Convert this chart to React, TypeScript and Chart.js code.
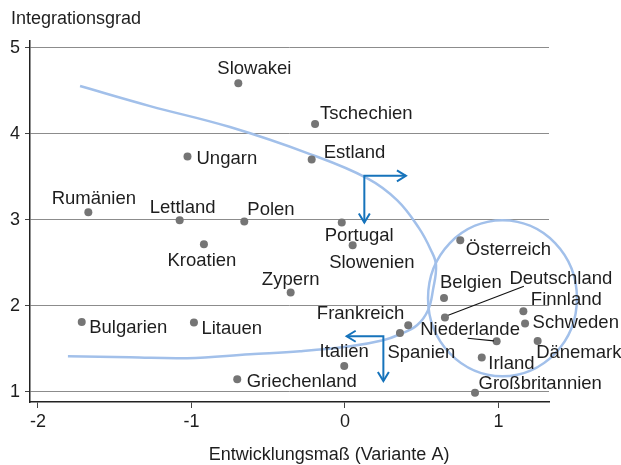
import React, { useEffect, useRef } from "react";
import { Chart, registerables } from "chart.js";

Chart.register(...registerables);

// ---------- data ----------
const countries = [
  "Slowakei", "Tschechien", "Ungarn", "Estland", "Rumänien", "Lettland", "Polen",
  "Portugal", "Slowenien", "Kroatien", "Zypern", "Bulgarien", "Litauen", "Griechenland",
  "Italien", "Frankreich", "Spanien", "Österreich", "Belgien", "Deutschland",
  "Niederlande", "Finnland", "Schweden", "Dänemark", "Irland", "Großbritannien",
];
const developmentValues = [
  -0.695, -0.195, -1.026, -0.217, -1.672, -1.077, -0.656,
  -0.021, 0.05, -0.919, -0.354, -1.715, -0.984, -0.702,
  -0.005, 0.412, 0.358, 0.751, 0.645, 0.651,
  0.988, 1.162, 1.173, 1.255, 0.891, 0.847,
];
const integrationValues = [
  4.586, 4.112, 3.736, 3.701, 3.087, 2.994, 2.979,
  2.967, 2.703, 2.715, 2.153, 1.81, 1.803, 1.143,
  1.298, 1.772, 1.682, 2.761, 2.09, 1.861,
  1.586, 1.935, 1.792, 1.589, 1.396, 0.988,
];

const xTicks = [-2, -1, 0, 1];
const yTicks = [1, 2, 3, 4, 5];
const xRange = [-2.052, 1.329];
const yRange = [0.879, 5.078];
const xTitle = "Entwicklungsmaß (Variante A)";
const yTitle = "Integrationsgrad";

// trend curve (data units)
const curveX = [
  -1.726, -1.27, -0.749, -0.228, 0.143, 0.339, 0.482, 0.56, 0.593, 0.573,
  0.541, 0.469, 0.358, 0.248, 0.033, -0.293, -0.619, -1.029, -1.401, -1.805,
];
const curveY = [
  4.554, 4.321, 4.077, 3.763, 3.483, 3.227, 2.901, 2.645, 2.471, 2.18,
  1.947, 1.772, 1.667, 1.597, 1.527, 1.469, 1.434, 1.388, 1.399, 1.411,
];

// cluster ellipse (data units): center, radii
const clusterCenter = [1.026, 2.086];
const clusterRadii = [0.485, 0.908];

// arrows (data units): corner x, corner y, horizontal tip x, vertical tip y
const arrowCornerX = [0.126, 0.25];
const arrowCornerY = [3.51, 1.644];
const arrowTipX = [0.397, 0.011];
const arrowTipY = [2.967, 1.123];

// ---------- label placement (pixel offsets from dot, text alignment) ----------
const labelPlacement: Record<string, [number, number, CanvasTextAlign]> = {
  Slowakei: [16, -9, "center"],
  Tschechien: [5, -5, "left"],
  Ungarn: [9, 8, "left"],
  Estland: [12, -1, "left"],
  "Rumänien": [5.5, -8, "center"],
  Lettland: [3, -7, "center"],
  Polen: [3, -6, "left"],
  Portugal: [-17, 18.5, "left"],
  Slowenien: [-23.5, 22.5, "left"],
  Kroatien: [-2, 21.5, "center"],
  Zypern: [0, -7.5, "center"],
  Bulgarien: [7.5, 11.5, "left"],
  Litauen: [7.5, 11.5, "left"],
  Griechenland: [9.5, 7.5, "left"],
  Italien: [0, -9, "center"],
  Frankreich: [-4, -6.5, "right"],
  Spanien: [-12.5, 25.5, "left"],
  "Österreich": [5.5, 15, "left"],
  Belgien: [-4, -9.5, "left"],
  Deutschland: [64.5, -34, "left"],
  Niederlande: [-76.5, -6, "left"],
  Finnland: [7.5, -6, "left"],
  Schweden: [7.5, 4, "left"],
  "Dänemark": [-1.5, 17.5, "left"],
  Irland: [6.5, 11, "left"],
  "Großbritannien": [3.5, -4, "left"],
};
// leader lines: pixel offsets from dot [x1, y1, x2, y2]
const leaderLines: Record<string, [number, number, number, number]> = {
  Deutschland: [3.3, -2.3, 79, -31.3],
  Niederlande: [-29, -3, -2.7, -0.3],
};

const FONT = "'Liberation Sans', Arial, Helvetica, sans-serif";
const TEXT = "#1e1e1e";
const CURVE_BLUE = "#a2c0ea";
const ARROW_BLUE = "#1673bb";

function drawArrowHead(ctx: CanvasRenderingContext2D, x: number, y: number, dx: number, dy: number) {
  const len = 9, spread = 5.5;
  const nx = -dy, ny = dx;
  ctx.beginPath();
  ctx.moveTo(x - dx * len + nx * spread, y - dy * len + ny * spread);
  ctx.lineTo(x, y);
  ctx.lineTo(x - dx * len - nx * spread, y - dy * len - ny * spread);
  ctx.stroke();
}

const overlayPlugin = {
  id: "overlay",
  beforeDatasetsDraw(chart: any) {
    const { ctx } = chart;
    const xs = chart.scales.x, ys = chart.scales.y;
    const cx = xs.getPixelForValue(clusterCenter[0]);
    const cy = ys.getPixelForValue(clusterCenter[1]);
    const rx = Math.abs(xs.getPixelForValue(clusterCenter[0] + clusterRadii[0]) - cx);
    const ry = Math.abs(ys.getPixelForValue(clusterCenter[1] + clusterRadii[1]) - cy);
    ctx.save();
    ctx.strokeStyle = CURVE_BLUE;
    ctx.lineWidth = 2.5;
    ctx.beginPath();
    ctx.ellipse(cx, cy, rx, ry, 0, 0, Math.PI * 2);
    ctx.stroke();
    ctx.restore();
  },
  afterDatasetsDraw(chart: any) {
    const { ctx } = chart;
    const xs = chart.scales.x, ys = chart.scales.y;
    ctx.save();
    // arrows
    ctx.strokeStyle = ARROW_BLUE;
    ctx.lineWidth = 2;
    ctx.lineCap = "butt";
    ctx.lineJoin = "miter";
    for (let i = 0; i < arrowCornerX.length; i++) {
      const px = xs.getPixelForValue(arrowCornerX[i]);
      const py = ys.getPixelForValue(arrowCornerY[i]);
      const hx = xs.getPixelForValue(arrowTipX[i]);
      const vy = ys.getPixelForValue(arrowTipY[i]);
      ctx.beginPath();
      ctx.moveTo(hx, py);
      ctx.lineTo(px, py);
      ctx.lineTo(px, vy);
      ctx.stroke();
      drawArrowHead(ctx, hx, py, Math.sign(hx - px), 0);
      drawArrowHead(ctx, px, vy, 0, Math.sign(vy - py));
    }
    // labels + leaders
    const meta = chart.getDatasetMeta(0);
    ctx.font = `18.5px ${FONT}`;
    ctx.fillStyle = TEXT;
    ctx.textBaseline = "alphabetic";
    countries.forEach((name, i) => {
      const el = meta.data[i];
      if (!el) return;
      const place = labelPlacement[name] || [6, 0, "left"];
      ctx.textAlign = place[2];
      ctx.fillText(name, el.x + place[0], el.y + place[1]);
      const leader = leaderLines[name];
      if (leader) {
        ctx.strokeStyle = "#111";
        ctx.lineWidth = 1.1;
        ctx.beginPath();
        ctx.moveTo(el.x + leader[0], el.y + leader[1]);
        ctx.lineTo(el.x + leader[2], el.y + leader[3]);
        ctx.stroke();
      }
    });
    ctx.restore();
  },
  afterDraw(chart: any) {
    const { ctx, chartArea } = chart;
    ctx.save();
    ctx.fillStyle = TEXT;
    ctx.font = `18px ${FONT}`;
    ctx.textBaseline = "alphabetic";
    ctx.textAlign = "left";
    ctx.fillText(yTitle, chartArea.left - 19, chartArea.top - 17);
    ctx.textAlign = "center";
    ctx.fillText(xTitle, chartArea.left + 299, chartArea.bottom + 58);
    ctx.restore();
  },
};

export default function App() {
  const canvasRef = useRef<HTMLCanvasElement | null>(null);

  useEffect(() => {
    if (!canvasRef.current) return;
    const points = countries.map((_, i) => ({ x: developmentValues[i], y: integrationValues[i] }));
    const curve = curveX.map((x, i) => ({ x, y: curveY[i] }));
    const tickFont = { family: FONT, size: 18 };
    const chart = new Chart(canvasRef.current, {
      type: "scatter",
      data: {
        datasets: [
          {
            data: points,
            pointRadius: 4,
            pointHoverRadius: 4,
            pointBackgroundColor: "#757575",
            pointBorderWidth: 0,
            order: 0,
          },
          {
            data: curve,
            showLine: true,
            pointRadius: 0,
            pointHoverRadius: 0,
            borderColor: CURVE_BLUE,
            borderWidth: 2.5,
            tension: 0.4,
            fill: false,
            order: 1,
          } as any,
        ],
      },
      options: {
        animation: false,
        responsive: false,
        events: [],
        layout: { padding: { top: 41, right: 72, left: 0, bottom: 0 } },
        plugins: { legend: { display: false }, tooltip: { enabled: false } },
        scales: {
          x: {
            type: "linear",
            min: xRange[0],
            max: xRange[1],
            afterBuildTicks: (s: any) => {
              s.ticks = xTicks.map((v) => ({ value: v }));
            },
            afterFit: (s: any) => {
              s.height = 63;
            },
            grid: { drawOnChartArea: false, drawTicks: true, tickLength: 6, tickColor: "#444", lineWidth: 1 },
            border: { display: true, color: "#222", width: 1.5 },
            ticks: { color: TEXT, font: tickFont, padding: 3, maxRotation: 0, autoSkip: false },
          },
          y: {
            type: "linear",
            min: yRange[0],
            max: yRange[1],
            afterBuildTicks: (s: any) => {
              s.ticks = yTicks.map((v) => ({ value: v }));
            },
            afterFit: (s: any) => {
              s.width = 30;
            },
            grid: { color: "#8c8c8c", lineWidth: 1, drawTicks: true, tickLength: 5, tickColor: "#444" },
            border: { display: true, color: "#222", width: 1.5 },
            ticks: { color: TEXT, font: tickFont, padding: 5, autoSkip: false },
          },
        },
      },
      plugins: [overlayPlugin],
    } as any);
    return () => chart.destroy();
  }, []);

  return (
    <div style={{ position: "fixed", left: 0, top: 0, width: 621, height: 465, background: "#fff" }}>
      <canvas ref={canvasRef} width={621} height={465} style={{ width: 621, height: 465, display: "block" }} />
    </div>
  );
}
